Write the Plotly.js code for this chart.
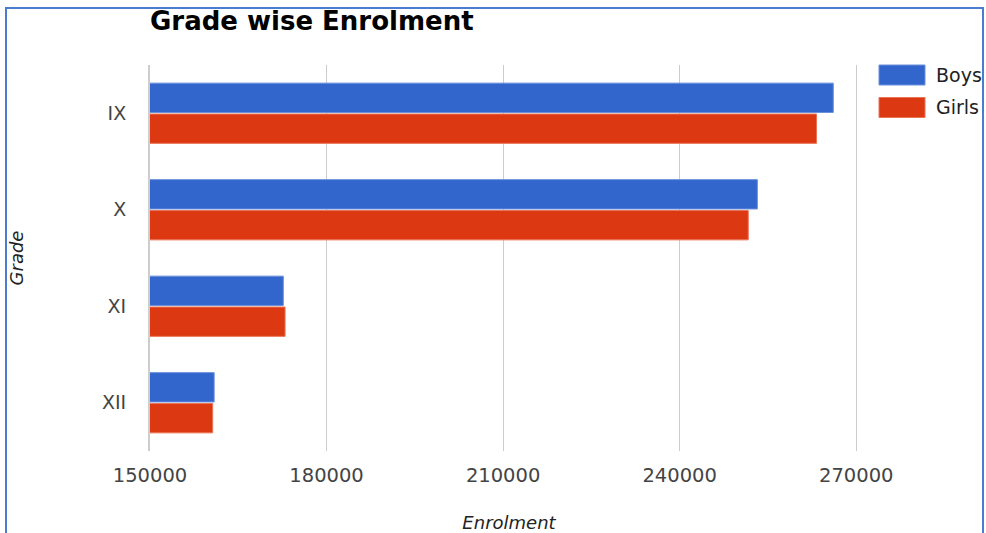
<!DOCTYPE html>
<html>
<head>
<meta charset="utf-8">
<script src="https://cdn.plot.ly/plotly-3.0.1.min.js"></script>
<style>
  html, body { margin: 0; padding: 0; background: #ffffff; }
  #chart { width: 986px; height: 533px; }
</style>
</head>
<body>
<div id="chart"></div>
<script>
// ---- data ----
const grades = ["IX", "X", "XI", "XII"];
const seriesNames = ["Boys", "Girls"];
const boys = [266100, 253200, 172650, 160900];
const girls = [263250, 251650, 172950, 160650];
const xTicks = [150000, 180000, 210000, 240000, 270000];
const chartTitle = "Grade wise Enrolment";
const xTitle = "Enrolment";
const yTitle = "Grade";

const colors = ["#3366cc", "#dc3912"];
const lineColors = ["#6a8fdc", "#ea7355"];

const traces = [boys, girls].map((vals, i) => ({
  type: "bar",
  orientation: "h",
  name: seriesNames[i],
  y: grades,
  x: vals,
  marker: { color: colors[i], line: { color: lineColors[i], width: 1 } },
  hoverinfo: "x+y+name"
}));

const W = 986, H = 533;
const M = { l: 150, r: 118, t: 65, b: 82 };
const pw = W - M.l - M.r, ph = H - M.t - M.b;
const px2x = p => (p - M.l) / pw;
const px2y = p => (H - M.b - p) / ph;

const shapes = [
  { type: "rect", xref: "paper", yref: "paper",
    x0: px2x(6), x1: px2x(983), y0: px2y(545), y1: px2y(8),
    line: { color: "#4a7cd0", width: 2 }, fillcolor: "rgba(0,0,0,0)", layer: "above" }
];
const annotations = [];
seriesNames.forEach((n, i) => {
  const top = 65 + i * 32.5;
  shapes.push({ type: "rect", xref: "paper", yref: "paper",
    x0: px2x(879), x1: px2x(925), y0: px2y(top + 20), y1: px2y(top),
    fillcolor: colors[i], line: { color: lineColors[i], width: 1 } });
  annotations.push({ xref: "paper", yref: "paper", x: px2x(934), y: px2y(top + 10),
    xanchor: "left", yanchor: "middle", showarrow: false, text: n,
    font: { family: "DejaVu Sans, Arial, sans-serif", size: 19, color: "#222" } });
});

const layout = {
  width: W, height: H,
  margin: M,
  paper_bgcolor: "#ffffff",
  plot_bgcolor: "#ffffff",
  showlegend: false,
  barmode: "group",
  bargap: 0.36,
  bargroupgap: 0.05,
  title: {
    text: "<b>" + chartTitle + "</b>",
    xref: "container", yref: "container",
    x: 150 / W, xanchor: "left",
    y: 1 - 21 / H, yanchor: "middle",
    font: { family: "DejaVu Sans, Arial, sans-serif", size: 26, color: "#000" }
  },
  xaxis: {
    range: [150000, 272000],
    tickvals: xTicks,
    ticktext: xTicks.map(String),
    showgrid: true, gridcolor: "#cccccc", gridwidth: 1,
    zeroline: false, showline: false, ticks: "",
    ticklabelstandoff: 10,
    tickfont: { family: "DejaVu Sans, Arial, sans-serif", size: 19.5, color: "#444" },
    title: { text: xTitle, standoff: 44,
      font: { family: "DejaVu Sans, Arial, sans-serif", size: 18, color: "#222", style: "italic" } },
    automargin: false, fixedrange: true
  },
  yaxis: {
    type: "category",
    categoryorder: "array", categoryarray: grades,
    autorange: "reversed",
    showgrid: false, zeroline: false,
    showline: true, linecolor: "#cdcdcd", linewidth: 2,
    ticks: "",
    ticklabelstandoff: 18,
    tickfont: { family: "DejaVu Sans, Arial, sans-serif", size: 19, color: "#444" },
    title: { text: yTitle, standoff: 74,
      font: { family: "DejaVu Sans, Arial, sans-serif", size: 18, color: "#222", style: "italic" } },
    automargin: false, fixedrange: true
  },
  shapes: shapes,
  annotations: annotations
};

Plotly.newPlot("chart", traces, layout, { displayModeBar: false });
</script>
</body>
</html>
